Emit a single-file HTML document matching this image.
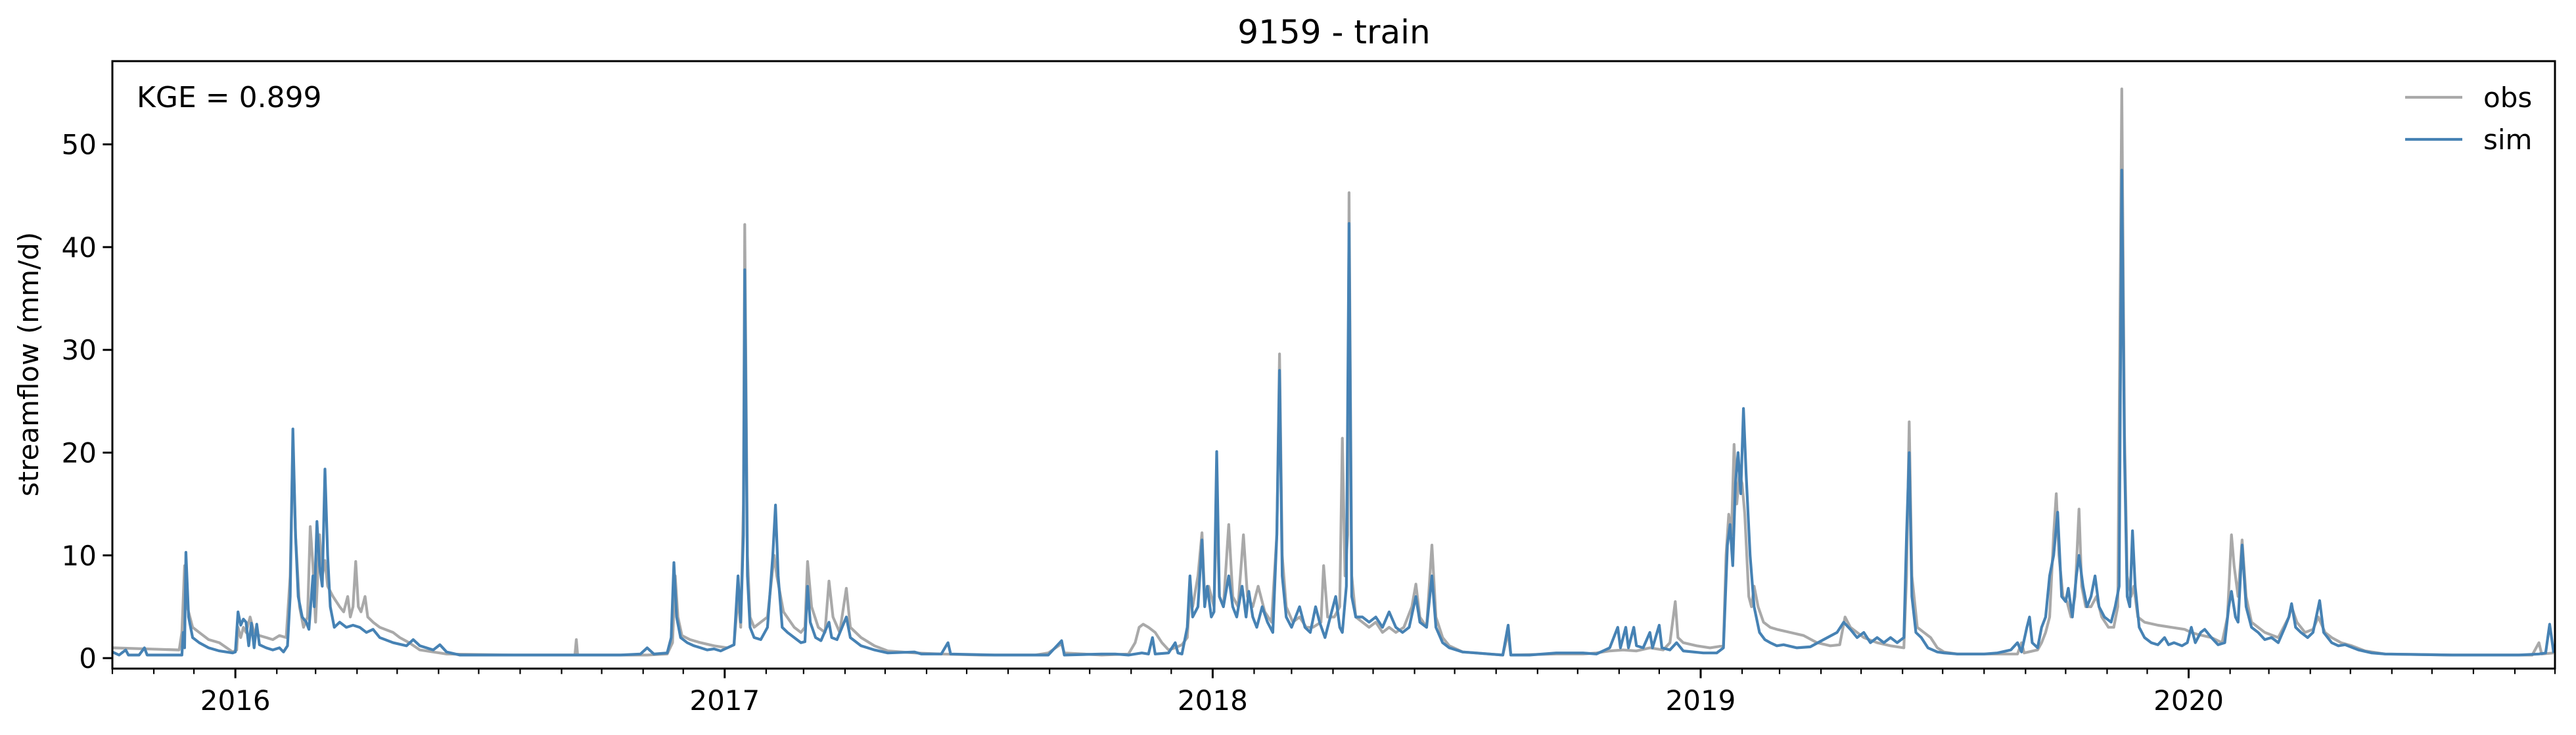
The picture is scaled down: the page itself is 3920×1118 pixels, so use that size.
<!DOCTYPE html>
<html><head><meta charset="utf-8"><style>
html,body{margin:0;padding:0;background:#fff;}
svg{display:block;font-family:"DejaVu Sans","Liberation Sans",sans-serif;}
</style></head><body>
<svg id="chart" width="3920" height="1118" viewBox="0 0 3920 1118" xmlns="http://www.w3.org/2000/svg">
<rect width="3920" height="1118" fill="#fff"/>
<text x="2030" y="66" font-size="50" text-anchor="middle">9159 - train</text>
<text transform="translate(58,554) rotate(-90)" font-size="42" text-anchor="middle">streamflow (mm/d)</text>
<defs><clipPath id="plotclip"><rect x="171" y="93" width="3717" height="924"/></clipPath></defs>
<g id="series" clip-path="url(#plotclip)"></g>
<rect x="171" y="93" width="3717" height="924" fill="none" stroke="#000" stroke-width="3"/>
<text x="208" y="163" font-size="44">KGE = 0.899</text>
<g>
<line x1="3660" y1="148" x2="3747" y2="148" stroke="#a9a9a9" stroke-width="4.2"/>
<text x="3779" y="163" font-size="42">obs</text>
<line x1="3660" y1="212" x2="3747" y2="212" stroke="#4682b4" stroke-width="4.2"/>
<text x="3779" y="227" font-size="42">sim</text>
</g>
<g id="axes"></g>
</svg>
<script>
// days since 2015-10-01
const simDays=[0,5,10,12,20,24,26,40,52,53,54,55,57,60,65,72,80,90,92,94,96,98,100,102,104,106,108,110,115,120,125,128,131,133,135,137,139,142,145,147,150,151,153,155,157,159,161,163,166,170,175,180,185,190,195,200,210,220,225,230,240,245,250,260,300,340,380,395,400,405,415,418,420,422,425,430,435,440,445,450,455,460,465,468,470,472,473,475,477,480,485,490,494,496,498,501,505,510,515,518,520,522,526,530,536,538,542,549,552,560,570,580,600,605,620,625,627,660,700,710,712,740,750,760,770,775,778,780,790,795,797,800,804,806,808,812,815,817,819,822,824,826,828,831,835,838,841,845,848,850,853,856,860,864,868,871,873,875,878,882,885,888,892,896,900,903,907,912,915,918,920,923,925,927,930,935,940,945,950,955,960,965,970,975,978,983,987,990,995,1000,1010,1020,1030,1040,1044,1046,1060,1080,1100,1110,1120,1126,1128,1132,1134,1138,1140,1145,1150,1152,1157,1159,1165,1170,1175,1190,1200,1205,1208,1210,1212,1214,1216,1218,1220,1222,1225,1228,1232,1236,1240,1245,1250,1260,1270,1280,1290,1295,1300,1305,1310,1315,1320,1325,1330,1335,1340,1342,1344,1346,1349,1353,1358,1365,1370,1380,1400,1410,1420,1425,1428,1432,1434,1436,1440,1443,1446,1449,1452,1455,1458,1461,1463,1466,1469,1471,1474,1477,1480,1483,1486,1490,1495,1498,1501,1503,1505,1507,1509,1511,1513,1516,1520,1525,1530,1535,1538,1542,1548,1552,1555,1558,1562,1565,1570,1575,1580,1583,1585,1588,1590,1593,1596,1600,1605,1610,1615,1620,1625,1628,1630,1633,1637,1642,1646,1651,1654,1660,1665,1670,1680,1690,1700,1750,1800,1815,1820,1823,1825,1826];
const simVals=[0.6,0.3,0.8,0.3,0.3,1.0,0.3,0.3,0.3,2.5,1,10.3,4,2,1.5,1,0.7,0.5,0.6,4.5,3.2,3.8,3.5,1.2,3.4,1,3.3,1.3,1,0.8,1,0.6,1.2,6,22.3,12,6,4,3.5,2.8,8,5,13.3,9,7,18.4,10,5,3,3.5,3,3.2,3,2.5,2.8,2,1.5,1.2,1.8,1.2,0.8,1.3,0.6,0.3,0.3,0.3,0.3,0.4,1,0.4,0.5,2,9.3,4,2,1.5,1.2,1,0.8,0.9,0.7,1,1.3,8,3.5,12,37.8,8,3,2,1.8,3,10,14.9,8,3,2.5,2,1.5,1.6,7,3.5,2,1.7,3.5,2,1.8,4,2,1.2,0.8,0.5,0.6,0.4,0.4,1.5,0.4,0.3,0.3,1.7,0.3,0.4,0.4,0.3,0.5,0.4,2,0.4,0.5,1.5,0.5,0.4,3,8,4,5,11.5,5,7,4,4.5,20.1,6,5,8,5,4,7,4,6.5,4,3,5,3.5,2.5,12,28,8,4,3,4,5,3,2.5,5,3.5,2,4.5,6,3,2.5,7,42.3,6,4,4,3.5,4,3,4.5,3,2.5,3,6,3.5,3,8,3,1.5,1,0.6,0.5,0.4,0.3,3.2,0.3,0.3,0.5,0.5,0.4,1,3,1,3,1,3,1.2,1,2.5,1,3.2,1,0.8,1.5,0.7,0.5,0.5,1,11,13,9,17,20,16,24.3,18,10,5,2.5,1.8,1.5,1.2,1.3,1.0,1.1,1.8,2.5,3.5,2.8,2,2.5,1.5,2,1.5,2,1.5,2,12,20,6,2.5,2,1,0.6,0.5,0.4,0.4,0.5,0.8,1.5,0.6,3,4,1.5,1,3,4,8,10,14.2,6,5.5,6.8,4,8,10,7,5,6,8,5,4,3.5,5,7,47.5,20,6,5,12.4,7,3,2,1.5,1.3,2,1.3,1.5,1.2,1.5,3,1.5,2.5,2.8,2,1.3,1.5,5,6.5,4,3.5,11,5,3,2.5,1.8,2,1.5,3,4,5.3,3,2.5,2,2.5,5.6,2.5,1.5,1.2,1.3,0.8,0.5,0.4,0.3,0.3,0.4,0.5,3.3,1.5,0.5];
const obsDays=[0,50,52,54,56,60,65,72,80,90,93,94,96,98,100,103,106,110,115,120,125,130,133,135,137,140,143,146,148,150,152,155,157,159,161,165,170,173,176,178,180,182,184,186,189,191,195,200,210,215,222,230,240,250,300,340,346,347,348,380,400,415,419,421,423,426,432,440,450,460,465,468,470,472,473,475,477,480,485,490,495,497,502,510,515,518,520,523,528,533,536,539,544,549,552,560,570,580,600,620,650,690,700,710,712,740,760,765,768,771,775,780,785,790,795,800,804,806,808,812,815,817,820,824,826,828,831,835,838,842,846,849,853,857,862,867,871,873,875,878,883,888,893,898,904,906,909,914,918,920,922,924,925,927,930,935,940,945,950,955,960,966,972,975,978,983,987,990,995,1000,1010,1030,1040,1044,1046,1080,1100,1110,1120,1130,1140,1150,1160,1165,1169,1171,1175,1185,1195,1205,1207,1209,1211,1213,1215,1217,1219,1221,1224,1226,1228,1231,1235,1240,1245,1255,1265,1275,1285,1292,1296,1300,1305,1310,1320,1330,1340,1342,1344,1346,1350,1355,1360,1365,1370,1380,1420,1425,1428,1430,1440,1443,1446,1449,1452,1454,1456,1459,1462,1465,1468,1471,1473,1476,1480,1484,1488,1493,1497,1500,1503,1505,1507,1510,1512,1515,1520,1530,1540,1550,1555,1560,1570,1578,1582,1585,1587,1590,1593,1596,1600,1605,1610,1620,1628,1630,1634,1640,1646,1650,1655,1660,1667,1675,1685,1700,1750,1810,1815,1817,1826];
const obsVals=[1,0.8,2.5,9,5,3,2.5,1.8,1.5,0.6,0.8,3,2,3,2.5,4,2.5,2.2,2,1.8,2.2,2,8,21,12,5,3,4,12.8,9,3.5,12,8,9.5,7,6,5,4.5,6,4,5,9.4,5,4.5,6,4,3.5,3,2.5,2,1.5,0.8,0.6,0.4,0.3,0.3,0.3,1.8,0.3,0.3,0.3,0.4,1.5,8,4,2.2,1.8,1.5,1.2,1,1.3,6,3,15,42.2,10,4,3,3.5,4,10,8,4.5,3,2.5,3,9.4,5,3,2.5,7.5,4,2.5,6.8,3,2,1.2,0.7,0.5,0.4,0.3,0.3,0.5,1.4,0.5,0.3,0.4,1.5,3,3.3,3,2.5,1.5,0.8,1,1.3,2,6,5,8,12.2,6,7,5,15,6,5,13,6,5,12,6,5,7,4.5,3.5,12,29.6,10,5,3.5,4,3,3,3.5,9,4,4,5,21.4,8,12,45.3,8,4,3.5,3,3.5,2.5,3,2.5,3,5,7.2,4,3,11,4,2,1.2,0.6,0.4,0.3,2.5,0.3,0.4,0.4,0.5,0.7,0.8,0.7,1,0.8,1.5,5.5,2,1.5,1.2,1,1.2,10,14,12,20.8,15,18,17,14,6,5,7,5,3.5,3,2.8,2.5,2.2,1.5,1.2,1.3,4,3,2.5,2,1.5,1.2,1,8,23,8,3,2.5,2,1,0.6,0.4,0.4,0.4,1.5,0.5,0.8,1.5,2.5,4,12,16,10,6,5.5,4,6,14.5,7,5,5,6,4,3,3,5,55.4,22,8,6,7,4,3.5,3.2,3,2.8,2.5,2.3,2,1.5,4,12,9,6,11.5,6,3.5,3,2.5,2,4,5,3.5,2.5,2.8,4,2.5,2,1.5,1.2,0.7,0.4,0.3,0.3,1.5,0.4,0.5];
const yTicks=[0,10,20,30,40,50];
const yearLabels=["2016","2017","2018","2019","2020"];
const yearDays=[92,458,823,1188,1553];
const monthDays=[0,31,61,92,123,152,183,213,244,274,305,336,366,397,427,458,489,517,548,578,609,639,670,701,731,762,792,823,854,882,913,943,974,1004,1035,1066,1096,1127,1157,1188,1219,1247,1278,1308,1339,1369,1400,1431,1461,1492,1522,1553,1584,1613,1644,1674,1705,1735,1766,1797,1827];

const X0=171,X1=3888,Y0=93,Y1=1017,D0=0,D1=1827,V0=-1.02,V1=58.1;
function xs(d){return X0+(d-D0)/(D1-D0)*(X1-X0);}
function ys(v){return Y1-(v-V0)/(V1-V0)*(Y1-Y0);}
const NS="http://www.w3.org/2000/svg";
function mk(tag,attrs,parent){const e=document.createElementNS(NS,tag);for(const k in attrs)e.setAttribute(k,attrs[k]);parent.appendChild(e);return e;}
const series=document.getElementById('series');
function line(days,vals,color,name){
  let d='';for(let i=0;i<days.length;i++){d+=(i?'L':'M')+xs(days[i]).toFixed(1)+','+ys(vals[i]).toFixed(1);}
  const p=mk('path',{d:d,fill:'none',stroke:color,'stroke-width':4.2,'stroke-linejoin':'round'},series);
  
  
}
line(obsDays,obsVals,'#a9a9a9','obs-line');
line(simDays,simVals,'#4682b4','sim-line');
const axes=document.getElementById('axes');
yTicks.forEach(v=>{
  const t=mk('line',{x1:X0-14.6,x2:X0,y1:ys(v),y2:ys(v),stroke:'#000','stroke-width':3},axes);
  
  
  const l=mk('text',{x:X0-24,y:ys(v)+15,'font-size':42,'text-anchor':'end'},axes);
  l.textContent=v;
  
  
});
monthDays.forEach(d=>{
  const t=mk('line',{x1:xs(d),x2:xs(d),y1:Y1,y2:Y1+8.3,stroke:'#000','stroke-width':2.2},axes);
  
  
});
yearDays.forEach((d,i)=>{
  const t=mk('line',{x1:xs(d),x2:xs(d),y1:Y1,y2:Y1+14.6,stroke:'#000','stroke-width':3},axes);
  
  
  const l=mk('text',{x:xs(d),y:Y1+63,'font-size':42,'text-anchor':'middle'},axes);
  l.textContent=yearLabels[i];
  
  
});
</script>
</body></html>
